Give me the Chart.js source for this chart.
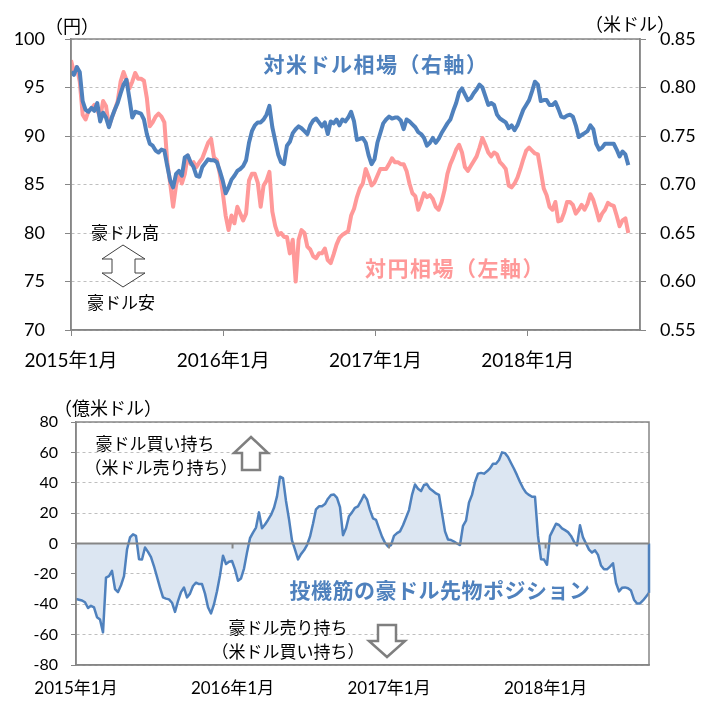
<!DOCTYPE html>
<html lang="ja">
<head>
<meta charset="utf-8">
<script src="https://cdn.jsdelivr.net/npm/chart.js@4.4.1/dist/chart.umd.min.js"></script>
<style>
  html, body { margin: 0; padding: 0; background: #fff; }
  #wrap { position: relative; width: 716px; height: 702px; overflow: hidden; font-family: 'Noto Sans CJK JP', sans-serif; }
  canvas { position: absolute; left: 0; }
  #topChart { top: 0; }
  #bottomChart { top: 372px; }
  .lbl { position: absolute; transform: translate(-50%, -50%); white-space: nowrap; line-height: 1; color: #000; font-size: 17px; }
  .unit { font-size: 18px; }
  .ttl { font-weight: 700; font-size: 21px; letter-spacing: 1.5px; }
  svg { position: absolute; left: 0; top: 0; }
</style>
</head>
<body>
<div id="wrap">
  <canvas id="topChart" width="716" height="372"></canvas>
  <canvas id="bottomChart" width="716" height="330"></canvas>
  <svg width="716" height="702">
    <polygon points="123,245 145,259 135,259 135,273 145,273 123,287 102,273 112,273 112,259 102,259" fill="#fff" stroke="#404040" stroke-width="1"/>
    <polygon points="251,437 268,453 260,453 260,470 242,470 242,453 234,453" fill="#fff" stroke="#7f7f7f" stroke-width="2.5"/>
    <polygon points="378,625 396,625 396,641 405,641 387,657 369,641 378,641" fill="#fff" stroke="#7f7f7f" stroke-width="2.5"/>
  </svg>
  <div class="lbl unit" style="left:72px; top:25px;">（円）</div>
  <div class="lbl unit" style="left:630px; top:23px;">（米ドル）</div>
  <div class="lbl unit" style="left:108px; top:407px;">（億米ドル）</div>
  <div class="lbl ttl" style="left:376px; top:63px; color:#4F81BD;">対米ドル相場（右軸）</div>
  <div class="lbl ttl" style="left:455px; top:267px; color:#FF9999;">対円相場（左軸）</div>
  <div class="lbl ttl" style="left:440px; top:589px; color:#4F81BD; letter-spacing:0.5px;">投機筋の豪ドル先物ポジション</div>
  <div class="lbl" style="left:125px; top:231px;">豪ドル高</div>
  <div class="lbl" style="left:121px; top:301px;">豪ドル安</div>
  <div class="lbl" style="left:155px; top:442px;">豪ドル買い持ち</div>
  <div class="lbl" style="left:161px; top:466px;">（米ドル売り持ち）</div>
  <div class="lbl" style="left:288px; top:626px;">豪ドル売り持ち</div>
  <div class="lbl" style="left:288px; top:650px;">（米ドル買い持ち）</div>
</div>
<script>
// 週次データ（2015年1月〜2018年8月）
const yearLabels = ['2015年1月', '2016年1月', '2017年1月', '2018年1月'];
const yearWeeks = [0, 52.18, 104.36, 156.54];

// 対米ドル相場（右軸, 米ドル）
const audUsd = [
  0.816, 0.813, 0.821, 0.816, 0.786, 0.777, 0.775, 0.779, 0.776, 0.784,
  0.765, 0.774, 0.769, 0.759, 0.769, 0.777, 0.784, 0.794, 0.803, 0.808,
  0.789, 0.769, 0.775, 0.774, 0.773, 0.767, 0.752, 0.742, 0.740, 0.735,
  0.733, 0.736, 0.735, 0.719, 0.704, 0.697, 0.711, 0.714, 0.709, 0.728,
  0.730, 0.723, 0.718, 0.709, 0.708, 0.718, 0.722, 0.726, 0.725, 0.725,
  0.723, 0.714, 0.704, 0.691, 0.697, 0.705, 0.709, 0.714, 0.716, 0.719,
  0.725, 0.743, 0.755, 0.761, 0.764, 0.764, 0.767, 0.772, 0.781, 0.759,
  0.745, 0.731, 0.723, 0.721, 0.740, 0.744, 0.753, 0.757, 0.760, 0.758,
  0.755, 0.752, 0.761, 0.766, 0.768, 0.764, 0.760, 0.764, 0.752, 0.765,
  0.763, 0.767, 0.761, 0.767, 0.765, 0.769, 0.775, 0.765, 0.746, 0.747,
  0.748, 0.743, 0.730, 0.721, 0.726, 0.743, 0.753, 0.763, 0.767, 0.770,
  0.768, 0.769, 0.769, 0.766, 0.757, 0.767, 0.765, 0.762, 0.759, 0.754,
  0.752, 0.748, 0.740, 0.743, 0.748, 0.743, 0.747, 0.753, 0.758, 0.763,
  0.767, 0.776, 0.784, 0.795, 0.799, 0.793, 0.787, 0.789, 0.794, 0.798,
  0.803, 0.800, 0.791, 0.782, 0.784, 0.782, 0.772, 0.768, 0.766, 0.764,
  0.758, 0.761, 0.756, 0.761, 0.769, 0.777, 0.782, 0.787, 0.796, 0.806,
  0.803, 0.786, 0.787, 0.787, 0.782, 0.782, 0.785, 0.778, 0.770, 0.769,
  0.771, 0.772, 0.770, 0.761, 0.749, 0.751, 0.753, 0.755, 0.761, 0.757,
  0.742, 0.736, 0.738, 0.742, 0.742, 0.742, 0.742, 0.736, 0.729, 0.734,
  0.731, 0.720
];

// 対円相場（左軸, 円）
const audJpy = [
  97.8, 96.6, 97.1, 95.6, 92.2, 91.7, 92.6, 92.8, 93.2, 92.7,
  91.9, 93.6, 93.1, 91.0, 91.9, 92.7, 93.6, 95.6, 96.6, 95.8,
  94.9, 95.6, 96.5, 95.9, 95.9, 95.7, 93.9, 91.0, 91.4, 92.0,
  92.3, 92.0, 91.4, 87.3, 85.1, 82.7, 84.9, 86.1, 85.1, 86.1,
  88.0, 87.1, 87.3, 86.8, 87.3, 87.7, 88.5, 89.3, 89.7, 87.8,
  87.5, 86.1, 84.2, 81.8, 80.3, 81.8, 81.0, 82.7, 82.0, 81.3,
  82.0, 85.4, 86.1, 86.1, 85.2, 82.7, 84.9, 85.4, 86.3, 82.2,
  80.7, 79.8, 80.0, 79.6, 79.6, 77.9, 79.3, 75.0, 79.3, 80.3,
  80.0, 78.6, 78.3, 77.6, 77.4, 77.9, 77.9, 78.4, 77.2, 76.9,
  77.8, 78.8, 79.5, 79.8, 80.0, 80.2, 81.8, 82.5, 83.7, 84.6,
  85.1, 86.6, 85.8, 84.9, 85.2, 85.9, 86.6, 86.6, 86.6, 87.1,
  87.7, 87.3, 87.3, 87.1, 87.1, 86.4, 85.1, 84.1, 83.8, 82.4,
  83.2, 84.1, 83.7, 83.9, 83.5, 82.7, 82.4, 83.2, 84.4, 86.1,
  87.1, 87.8, 88.6, 89.1, 88.3, 86.8, 86.4, 86.9, 87.4, 87.9,
  88.8, 89.8, 89.1, 88.3, 87.9, 88.3, 88.1, 87.3, 87.0, 86.6,
  84.9, 84.7, 85.1, 85.7, 86.6, 87.6, 88.5, 88.8, 88.5, 88.2,
  88.1, 86.4, 84.6, 83.9, 82.7, 82.4, 83.2, 81.2, 81.3, 82.1,
  83.2, 83.2, 82.9, 82.0, 82.4, 82.9, 82.4, 83.0, 84.0, 83.4,
  82.4, 81.3, 82.0, 82.4, 83.1, 82.9, 82.8, 81.8, 80.7, 81.3,
  81.5, 80.0
];

// 投機筋の豪ドル先物ポジション（億米ドル）
const specPos = [
  -36.5, -37, -37.5, -38.7, -42.5, -41, -42, -48.5, -50, -58.5,
  -22.5, -21.5, -18, -30, -32, -27.5, -21.5, -4, 4, 6,
  5, -10.3, -10.5, -2.6, -5.5, -9, -15, -22, -29, -35.5,
  -36.3, -36.8, -39, -45, -38, -32, -29, -35.5, -33, -28,
  -25.8, -26.7, -26.7, -33, -42, -46, -40, -31.5, -21, -8,
  -13.5, -12, -11.5, -17, -24.5, -23, -16.5, -6, 3.5, 7.2,
  10.5, 20.5, 10, 12.5, 15.5, 18.8, 23.5, 31, 44, 43,
  28, 16, 2, -4, -10.5, -7, -4.5, -1, 4.5, 13,
  22.5, 24.5, 24.5, 26, 29.5, 32, 32.3, 30, 24, 5.5,
  10, 18, 20.5, 23.5, 24.5, 28, 32, 29, 22, 16.5,
  15.6, 10, 4.5, 0.5, -2, -1, 5, 6.8, 8, 12,
  17, 22, 32, 38.8, 36, 34.5, 38.5, 39, 36, 34.5,
  33, 32, 20, 8, 2.6, 2.3, 1.3, 0, -1, 11.6,
  15, 27, 32, 40.5, 46, 46.5, 46, 47.5, 49.5, 52.5,
  52.5, 55, 60, 59.5, 57, 53, 49.2, 45, 40.5, 36.5,
  33.5, 32, 30.8, 30.8, 5, -10.3, -10.6, -14, 5, 9,
  13, 12.2, 10, 8.8, 7.5, 5, 1.2, -1.2, 12, 4,
  0, -4, -6, -4.5, -7.5, -14.5, -17, -17, -15.2, -13,
  -26, -31.5, -29.2, -28.9, -29.5, -31, -37, -39.5, -39.5, -37.5,
  -35, -32.5
];

const blue = '#4F81BD';
const pink = '#FF9999';
const gridGray = '#BFBFBF';
const axisGray = '#868686';
const tickFont = "Lato, 'Noto Sans CJK JP', sans-serif";

const toPoints = arr => arr.map((v, i) => ({ x: i, y: v }));
const setYearTicks = scale => { scale.ticks = yearWeeks.map(w => ({ value: w })); };

// プロット枠
const frame = {
  id: 'frame',
  afterDatasetsDraw(chart) {
    const a = chart.chartArea;
    const c = chart.ctx;
    c.save();
    c.strokeStyle = axisGray;
    c.lineWidth = 1.5;
    c.strokeRect(a.left, a.top, a.right - a.left, a.bottom - a.top);
    c.restore();
  }
};

// 下段のゼロ線（横軸）と右端の閉じ線
const zeroAxis = {
  id: 'zeroAxis',
  afterDatasetsDraw(chart) {
    const { ctx, chartArea: a, scales: { x, y } } = chart;
    const y0 = y.getPixelForValue(0);
    const last = specPos.length - 1;
    ctx.save();
    ctx.strokeStyle = blue;
    ctx.lineWidth = 2.5;
    ctx.beginPath();
    ctx.moveTo(x.getPixelForValue(last), y.getPixelForValue(specPos[last]));
    ctx.lineTo(x.getPixelForValue(last), y0);
    ctx.stroke();
    ctx.strokeStyle = axisGray;
    ctx.lineWidth = 2;
    ctx.beginPath();
    ctx.moveTo(a.left, y0);
    ctx.lineTo(a.right, y0);
    yearWeeks.forEach(w => {
      const px = x.getPixelForValue(w);
      ctx.moveTo(px, y0);
      ctx.lineTo(px, y0 + 5);
    });
    ctx.stroke();
    ctx.restore();
  }
};

new Chart(document.getElementById('topChart'), {
  type: 'line',
  data: {
    datasets: [
      {
        label: '対米ドル相場（右軸）',
        data: toPoints(audUsd),
        yAxisID: 'yR',
        borderColor: blue,
        borderWidth: 4,
        pointRadius: 0,
        tension: 0,
        borderJoinStyle: 'round'
      },
      {
        label: '対円相場（左軸）',
        data: toPoints(audJpy),
        yAxisID: 'y',
        borderColor: pink,
        borderWidth: 4,
        pointRadius: 0,
        tension: 0,
        borderJoinStyle: 'round'
      }
    ]
  },
  options: {
    responsive: false,
    animation: false,
    events: [],
    layout: { padding: { top: 39 } },
    plugins: { legend: { display: false }, tooltip: { enabled: false } },
    scales: {
      x: {
        type: 'linear',
        min: 0,
        max: 195,
        afterBuildTicks: setYearTicks,
        afterFit: s => { s.height = 42; },
        grid: { drawOnChartArea: false, color: axisGray, tickLength: 6 },
        border: { color: axisGray, width: 1.5 },
        ticks: {
          callback: (v, i) => yearLabels[i],
          autoSkip: false,
          maxRotation: 0,
          padding: 13,
          color: '#000',
          font: { family: tickFont, size: 19 }
        }
      },
      y: {
        position: 'left',
        min: 70,
        max: 100,
        afterFit: s => { s.width = 71; },
        grid: { color: gridGray, tickColor: axisGray, tickLength: 6 },
        border: { color: axisGray, width: 1.5, dash: [3, 3] },
        ticks: {
          stepSize: 5,
          padding: 20,
          color: '#000',
          font: { family: tickFont, size: 18 }
        }
      },
      yR: {
        position: 'right',
        min: 0.55,
        max: 0.85,
        afterFit: s => { s.width = 76; },
        grid: { drawOnChartArea: false, tickColor: axisGray, tickLength: 6 },
        border: { color: axisGray, width: 1.5 },
        ticks: {
          stepSize: 0.05,
          padding: 14,
          color: '#000',
          callback: v => v.toFixed(2),
          font: { family: tickFont, size: 18 }
        }
      }
    }
  },
  plugins: [frame]
});

new Chart(document.getElementById('bottomChart'), {
  type: 'line',
  data: {
    datasets: [{
      label: '投機筋の豪ドル先物ポジション',
      data: toPoints(specPos),
      borderColor: blue,
      backgroundColor: '#DCE6F2',
      borderWidth: 2.5,
      pointRadius: 0,
      tension: 0,
      fill: 'origin',
      borderJoinStyle: 'round'
    }]
  },
  options: {
    responsive: false,
    animation: false,
    events: [],
    layout: { padding: { top: 50, right: 67 } },
    plugins: { legend: { display: false }, tooltip: { enabled: false } },
    scales: {
      x: {
        type: 'linear',
        min: 0,
        max: specPos.length - 1,
        afterBuildTicks: setYearTicks,
        afterFit: s => { s.height = 37; },
        grid: { display: false, drawTicks: false },
        border: { color: axisGray, width: 1.5 },
        ticks: {
          callback: (v, i) => yearLabels[i],
          autoSkip: false,
          maxRotation: 0,
          padding: 13,
          color: '#000',
          font: { family: tickFont, size: 17 }
        }
      },
      y: {
        min: -80,
        max: 80,
        afterFit: s => { s.width = 76; },
        grid: {
          color: c => c.tick.value === 0 ? 'rgba(0,0,0,0)' : gridGray,
          tickColor: axisGray,
          tickLength: 5
        },
        border: { color: axisGray, width: 1.5, dash: [3, 3] },
        ticks: {
          stepSize: 20,
          padding: 13,
          color: '#000',
          font: { family: tickFont, size: 16 }
        }
      }
    }
  },
  plugins: [frame, zeroAxis]
});
</script>
</body>
</html>
